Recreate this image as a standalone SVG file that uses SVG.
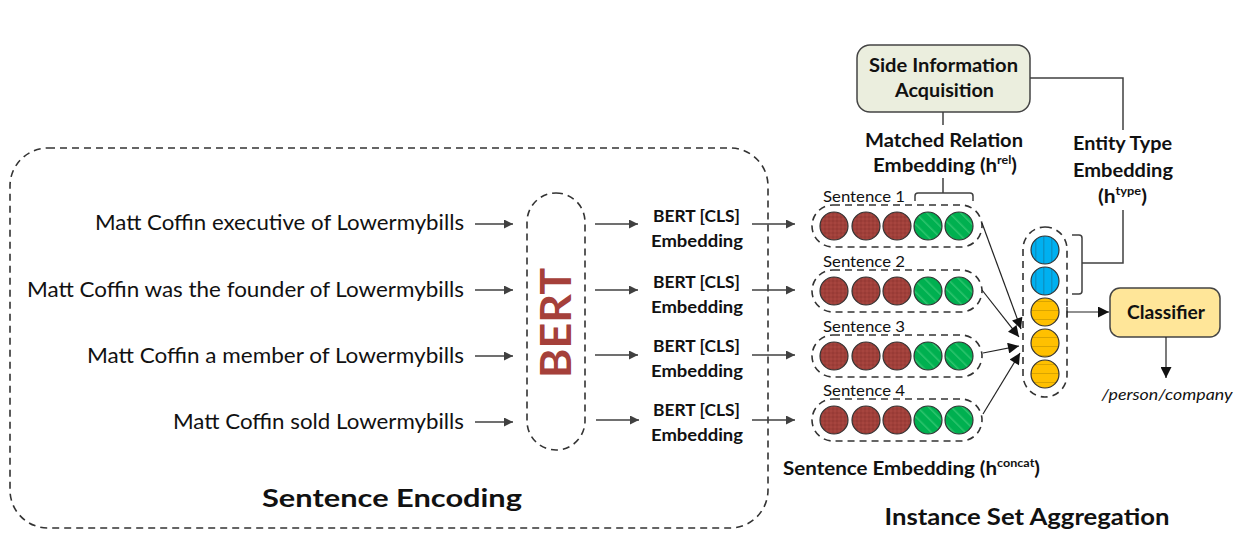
<svg xmlns="http://www.w3.org/2000/svg" width="1254" height="558" viewBox="0 0 1254 558">
<style>
.t{font-family:"Lato","Liberation Sans",sans-serif;fill:#111}
.b{font-weight:bold}
.dash{fill:none;stroke:#333;stroke-width:1.6;stroke-dasharray:7 5}
.ln{fill:none;stroke:#404040;stroke-width:1.5}
.arr{fill:none;stroke:#404040;stroke-width:1.6;marker-end:url(#ah)}
.arr2{fill:none;stroke:#222;stroke-width:1.2;marker-end:url(#ah2)}
.br{fill:url(#pBr);stroke:#333;stroke-width:1.2}
.gr{fill:url(#pGr);stroke:#333;stroke-width:1.2}
.bl{fill:url(#pBl);stroke:#333;stroke-width:1.2}
.ye{fill:url(#pYe);stroke:#333;stroke-width:1.2}
</style>
<defs>
<marker id="ah" viewBox="0 0 10 10" refX="10" refY="5" markerWidth="13" markerHeight="9" markerUnits="userSpaceOnUse" orient="auto"><path d="M0,0 L10,5 L0,10 Z" fill="#404040"/></marker>
<marker id="ah2" viewBox="0 0 10 10" refX="10" refY="5" markerWidth="12" markerHeight="11" markerUnits="userSpaceOnUse" orient="auto"><path d="M0,0 L10,5 L0,10 Z" fill="#111"/></marker>
<pattern id="pBr" width="4" height="4" patternUnits="userSpaceOnUse"><rect width="4" height="4" fill="#A0403A"/><circle cx="1" cy="1" r="0.8" fill="#8E3530"/><circle cx="3" cy="3" r="0.8" fill="#B04A44"/></pattern>
<pattern id="pGr" width="8" height="8" patternUnits="userSpaceOnUse" patternTransform="rotate(-45)"><rect width="8" height="8" fill="#00B050"/><rect width="1.5" height="8" fill="#2EC46E"/></pattern>
<pattern id="pBl" width="8" height="8" patternUnits="userSpaceOnUse"><rect width="8" height="8" fill="#00B0F0"/><rect x="3" width="1.5" height="8" fill="#0A94C8"/></pattern>
<pattern id="pYe" width="9" height="9" patternUnits="userSpaceOnUse"><rect width="9" height="9" fill="#FFC000"/><rect y="4" width="9" height="1" fill="#D9A400"/></pattern>
</defs>

<g id="sentence-encoding">
<rect class="dash" x="10" y="148" width="758" height="380" rx="38"/>
<text class="t b" x="392" y="507" font-size="25" text-anchor="middle" textLength="260" lengthAdjust="spacingAndGlyphs">Sentence Encoding</text>
</g>

<g id="sentences">
<text class="t" x="464" y="230" font-size="21" text-anchor="end" textLength="369" lengthAdjust="spacingAndGlyphs">Matt Coffin executive of Lowermybills</text>
<text class="t" x="464" y="297" font-size="21" text-anchor="end" textLength="437" lengthAdjust="spacingAndGlyphs">Matt Coffin was the founder of Lowermybills</text>
<text class="t" x="464" y="363" font-size="21" text-anchor="end" textLength="377" lengthAdjust="spacingAndGlyphs">Matt Coffin a member of Lowermybills</text>
<text class="t" x="464" y="429" font-size="21" text-anchor="end" textLength="291" lengthAdjust="spacingAndGlyphs">Matt Coffin sold Lowermybills</text>
</g>

<g id="bert">
<rect class="dash" x="527" y="193" width="58" height="257" rx="29"/>
<text class="b" font-family="Lato,'Liberation Sans',sans-serif" font-size="42" fill="#A5403A" text-anchor="middle" transform="translate(571,323) rotate(-90)" textLength="110" lengthAdjust="spacingAndGlyphs">BERT</text>
</g>

<g id="cls-embeddings">
<text class="t b" x="653" y="222" font-size="17" textLength="87" lengthAdjust="spacingAndGlyphs">BERT [CLS]</text>
<text class="t b" x="651" y="247" font-size="17" textLength="92" lengthAdjust="spacingAndGlyphs">Embedding</text>
<text class="t b" x="653" y="288" font-size="17" textLength="87" lengthAdjust="spacingAndGlyphs">BERT [CLS]</text>
<text class="t b" x="651" y="313" font-size="17" textLength="92" lengthAdjust="spacingAndGlyphs">Embedding</text>
<text class="t b" x="653" y="352" font-size="17" textLength="87" lengthAdjust="spacingAndGlyphs">BERT [CLS]</text>
<text class="t b" x="651" y="377" font-size="17" textLength="92" lengthAdjust="spacingAndGlyphs">Embedding</text>
<text class="t b" x="653" y="416" font-size="17" textLength="87" lengthAdjust="spacingAndGlyphs">BERT [CLS]</text>
<text class="t b" x="651" y="441" font-size="17" textLength="92" lengthAdjust="spacingAndGlyphs">Embedding</text>
</g>

<g id="sentence1">
<text class="t" x="823" y="202" font-size="15" textLength="82" lengthAdjust="spacingAndGlyphs">Sentence 1</text>
<rect class="dash" x="812" y="205" width="170" height="42" rx="21"/>
<circle class="br" cx="834" cy="226" r="14"/><circle class="br" cx="866" cy="226" r="14"/><circle class="br" cx="897" cy="226" r="14"/><circle class="gr" cx="928" cy="226" r="14"/><circle class="gr" cx="959" cy="226" r="14"/>
</g>
<g id="sentence2">
<text class="t" x="823" y="267" font-size="15" textLength="82" lengthAdjust="spacingAndGlyphs">Sentence 2</text>
<rect class="dash" x="812" y="270" width="170" height="42" rx="21"/>
<circle class="br" cx="834" cy="291" r="14"/><circle class="br" cx="866" cy="291" r="14"/><circle class="br" cx="897" cy="291" r="14"/><circle class="gr" cx="928" cy="291" r="14"/><circle class="gr" cx="959" cy="291" r="14"/>
</g>
<g id="sentence3">
<text class="t" x="823" y="332" font-size="15" textLength="82" lengthAdjust="spacingAndGlyphs">Sentence 3</text>
<rect class="dash" x="812" y="335" width="170" height="42" rx="21"/>
<circle class="br" cx="834" cy="356" r="14"/><circle class="br" cx="866" cy="356" r="14"/><circle class="br" cx="897" cy="356" r="14"/><circle class="gr" cx="928" cy="356" r="14"/><circle class="gr" cx="959" cy="356" r="14"/>
</g>
<g id="sentence4">
<text class="t" x="823" y="396" font-size="15" textLength="82" lengthAdjust="spacingAndGlyphs">Sentence 4</text>
<rect class="dash" x="812" y="399" width="170" height="42" rx="21"/>
<circle class="br" cx="834" cy="420" r="14"/><circle class="br" cx="866" cy="420" r="14"/><circle class="br" cx="897" cy="420" r="14"/><circle class="gr" cx="928" cy="420" r="14"/><circle class="gr" cx="959" cy="420" r="14"/>
</g>
<g id="sentence-embedding-label">
<text class="t b" x="783" y="475" font-size="18" textLength="257" lengthAdjust="spacingAndGlyphs">Sentence Embedding (h<tspan font-size="11" dy="-8">concat</tspan><tspan dy="8">)</tspan></text>
</g>

<g id="side-info">
<rect x="857" y="45" width="173" height="67" rx="13" fill="#EBEEDE" stroke="#444" stroke-width="1.5"/>
<text class="t b" x="869" y="72" font-size="19" textLength="149" lengthAdjust="spacingAndGlyphs">Side Information</text>
<text class="t b" x="895" y="97" font-size="19" textLength="99" lengthAdjust="spacingAndGlyphs">Acquisition</text>
</g>

<g id="matched-relation">
<text class="t b" x="865" y="147" font-size="18" textLength="158" lengthAdjust="spacingAndGlyphs">Matched Relation</text>
<text class="t b" x="873" y="172" font-size="18" textLength="144" lengthAdjust="spacingAndGlyphs">Embedding (h<tspan font-size="11" dy="-8">rel</tspan><tspan dy="8">)</tspan></text>
</g>

<g id="entity-type">
<text class="t b" x="1073" y="150" font-size="18" textLength="99" lengthAdjust="spacingAndGlyphs">Entity Type</text>
<text class="t b" x="1073" y="177" font-size="18" textLength="100" lengthAdjust="spacingAndGlyphs">Embedding</text>
<text class="t b" x="1098" y="203" font-size="18" textLength="49" lengthAdjust="spacingAndGlyphs">(h<tspan font-size="11" dy="-8">type</tspan><tspan dy="8">)</tspan></text>
</g>

<g id="aggregated">
<rect class="dash" x="1023" y="227" width="44" height="170" rx="22"/>
<circle class="bl" cx="1045" cy="250" r="14"/><circle class="bl" cx="1045" cy="281" r="14"/><circle class="ye" cx="1045" cy="312" r="14"/><circle class="ye" cx="1045" cy="343" r="14"/><circle class="ye" cx="1045" cy="374" r="14"/>
</g>

<g id="classifier">
<rect x="1110" y="288" width="110" height="49" rx="10" fill="#FFE699" stroke="#444" stroke-width="1.5"/>
<text class="t b" x="1127" y="319" font-size="19" textLength="78" lengthAdjust="spacingAndGlyphs">Classifier</text>
</g>
<g id="output">
<text class="t" x="1167" y="400" font-size="16" font-style="italic" text-anchor="middle" textLength="131" lengthAdjust="spacingAndGlyphs">/person/company</text>
</g>
<g id="isa-label">
<text class="t b" x="1027" y="525" font-size="23" text-anchor="middle" textLength="285" lengthAdjust="spacingAndGlyphs">Instance Set Aggregation</text>
</g>

<g id="connectors">
<line class="arr" x1="475" y1="224" x2="513" y2="224"/>
<line class="arr" x1="475" y1="290" x2="513" y2="290"/>
<line class="arr" x1="475" y1="356" x2="513" y2="356"/>
<line class="arr" x1="475" y1="422" x2="513" y2="422"/>
<line class="arr" x1="595" y1="224" x2="638" y2="224"/>
<line class="arr" x1="595" y1="290" x2="638" y2="290"/>
<line class="arr" x1="595" y1="355" x2="638" y2="355"/>
<line class="arr" x1="596" y1="420" x2="639" y2="420"/>
<line class="arr" x1="752" y1="224" x2="795" y2="224"/>
<line class="arr" x1="752" y1="290" x2="795" y2="290"/>
<line class="arr" x1="752" y1="355" x2="795" y2="355"/>
<line class="arr" x1="752" y1="420" x2="795" y2="420"/>
<line class="arr2" x1="982" y1="223" x2="1021" y2="329"/>
<line class="arr2" x1="982" y1="290" x2="1019" y2="337"/>
<line class="arr2" x1="983" y1="353" x2="1019" y2="346"/>
<line class="arr2" x1="983" y1="414" x2="1020" y2="353"/>
<path class="ln" d="M915,201 V196 Q915,193 918,193 H970 Q973,193 973,196 V201 M943,193 V178"/>
<line class="ln" x1="943" y1="112" x2="943" y2="125"/>
<path class="ln" d="M1030,78 H1123 V130"/>
<path class="ln" d="M1072,235 H1079 Q1082,235 1082,238 V291 Q1082,294 1079,294 H1072 M1082,263 H1123 V210"/>
<line class="ln" x1="1067" y1="307" x2="1067" y2="317"/>
<line class="arr2" x1="1067" y1="312" x2="1109" y2="312"/>
<line class="arr2" x1="1166" y1="337" x2="1166" y2="378"/>
</g>
</svg>
